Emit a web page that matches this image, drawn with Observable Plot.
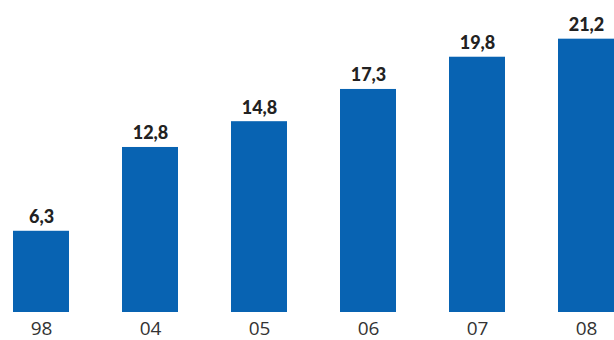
<!DOCTYPE html>
<html>
<head>
<meta charset="utf-8">
<script src="https://cdn.jsdelivr.net/npm/d3@7"></script>
<script src="https://cdn.jsdelivr.net/npm/@observablehq/plot@0.6"></script>
<style>
  html, body { margin: 0; padding: 0; background: #fff; }
  #chart svg { display: block; }
</style>
</head>
<body>
<div id="chart"></div>
<script>
const years = ["98", "04", "05", "06", "07", "08"];
const values = [6.3, 12.8, 14.8, 17.3, 19.8, 21.2];

const data = years.map((y, i) => ({year: y, value: values[i]}));
const fmt = v => v.toFixed(1).replace(".", ",");

const chart = Plot.plot({
  width: 614,
  height: 340,
  marginTop: 0,
  marginBottom: 28,
  marginLeft: 12,
  marginRight: 0,
  style: {background: "#fff"},
  x: {domain: years, paddingInner: 0.487, paddingOuter: 0, label: null},
  y: {domain: [0, 24.2], axis: null},
  marks: [
    Plot.barY(data, {x: "year", y: "value", fill: "#0863b2"}),
    Plot.text(data, {
      x: "year", y: "value", text: d => fmt(d.value),
      lineAnchor: "bottom", dy: -8,
      fontSize: 18, fontWeight: 900, fontFamily: "Lato", fill: "#222"
    }),
    Plot.axisX({
      tickSize: 0, tickPadding: 9, fontSize: 19,
      fontFamily: "Open Sans", fill: "#333", label: null
    })
  ]
});
document.getElementById("chart").appendChild(chart);
</script>
</body>
</html>
